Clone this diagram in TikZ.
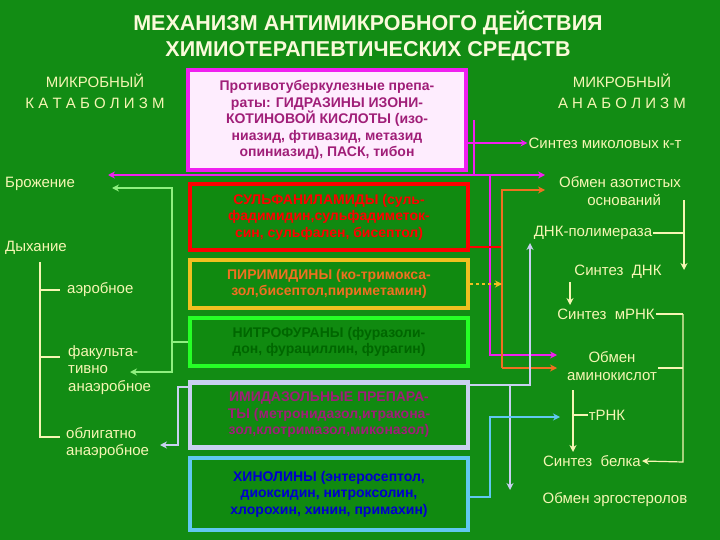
\documentclass[tikz,border=0pt]{standalone}
\usepackage{fontspec}
\setmainfont{Liberation Sans}
\usetikzlibrary{arrows.meta}
\definecolor{bg}{HTML}{128C14}
\definecolor{lbl}{HTML}{F6F6B4}
\definecolor{mag}{HTML}{F020F0}
\definecolor{magtxt}{HTML}{A01E78}
\definecolor{orng}{HTML}{F07020}
\definecolor{lgreen}{HTML}{90F080}
\definecolor{lav}{HTML}{C8D0F0}
\definecolor{cyn}{HTML}{60C8F0}
\definecolor{ylw}{HTML}{F0C020}
\definecolor{boxg}{HTML}{108A10}
\tikzset{
 lab/.style={text=lbl,font=\fontsize{15}{17.5}\selectfont,align=center,inner sep=1pt},
 drug/.style={draw,line width=4.5pt,fill=boxg,minimum width=278pt,align=center,font=\bfseries\fontsize{14}{16.5}\selectfont,inner sep=2pt},
 con/.style={line width=2.2pt},
 tip/.style={-{Stealth[length=7pt,width=7pt]}},
 yl/.style={draw=lbl,line width=1.2pt}
}
\begin{document}
\begin{tikzpicture}[x=1pt,y=-1pt]
\fill[bg] (0,0) rectangle (720,540);
\useasboundingbox (0,0) rectangle (720,540);
% title
\node[text=lbl!50!white,font=\bfseries\fontsize{21.5}{26}\selectfont,align=center] (title) at (368,36) {МЕХАНИЗМ АНТИМИКРОБНОГО ДЕЙСТВИЯ\\ХИМИОТЕРАПЕВТИЧЕСКИХ СРЕДСТВ};
\node[lab,font=\fontsize{15}{21}\selectfont] (kat) at (95,91) {МИКРОБНЫЙ\\К А Т А Б О Л И З М};
\node[lab,font=\fontsize{15}{21}\selectfont] (ana) at (622,91) {МИКРОБНЫЙ\\А Н А Б О Л И З М};
% drug boxes
\node[drug,draw=mag,fill=white!92!mag,text=magtxt,minimum height=100pt] (b1) at (327,120)
 {Противотуберкулезные препа-\\раты: ГИДРАЗИНЫ ИЗОНИ-\\КОТИНОВОЙ КИСЛОТЫ (изо-\\ниазид, фтивазид, метазид\\опиниазид), ПАСК, тибон};
\node[drug,draw=red,text=red,minimum height=66pt] (b2) at (329,217)
 {СУЛЬФАНИЛАМИДЫ (суль-\\фадимидин,сульфадиметок-\\син, сульфален, бисептол)};
\node[drug,draw=ylw,text=orng,minimum height=48pt] (b3) at (329,284)
 {ПИРИМИДИНЫ (ко-тримокса-\\зол,бисептол,пириметамин)};
\node[drug,draw=green!85!white,text=green!40!black,minimum height=48pt] (b4) at (329,342)
 {НИТРОФУРАНЫ (фуразоли-\\дон, фурациллин, фурагин)};
\node[drug,draw=lav,text=magtxt,minimum height=65pt] (b5) at (329,415)
 {ИМИДАЗОЛЬНЫЕ ПРЕПАРА-\\ТЫ (метронидазол,итракона-\\зол,клотримазол,миконазол)};
\node[drug,draw=cyn,text=blue!80!black,minimum height=72pt] (b6) at (329,494)
 {ХИНОЛИНЫ (энтеросептол,\\диоксидин, нитроксолин,\\хлорохин, хинин, примахин)};
% left labels
\node[lab,anchor=west] (brozh) at (4,184) {Брожение};
\node[lab,anchor=west] (dyh) at (4,248) {Дыхание};
\node[lab,anchor=west] (aer) at (66,290) {аэробное};
\node[lab,anchor=west,align=left] (fak) at (67,370) {факульта-\\тивно\\анаэробное};
\node[lab,anchor=west,align=left] (obl) at (65,443) {облигатно\\анаэробное};
\draw[yl] (40,262) -- (40,437) -- (60,437) (40,290)--(60,290) (40,357)--(60,357);
% right labels
\node[lab] (mik) at (605,143) {Синтез миколовых к-т};
\node[lab] (azot) at (620,191) {Обмен азотистых\\ \ \ оснований};
\node[lab] (dnkp) at (593,233) {ДНК-полимераза};
\node[lab] (sdnk) at (618,272) {Синтез\ \ ДНК};
\node[lab] (mrnk) at (606,314) {Синтез\ \ мРНК};
\node[lab] (amin) at (612,366) {Обмен\\аминокислот};
\node[lab] (trnk) at (607,415) {тРНК};
\node[lab] (belk) at (592,461) {Синтез\ \ белка};
\node[lab] (ergo) at (615,500) {Обмен эргостеролов};
\coordinate (ergoT) at (510,490);
% yellow right connectors
\draw[yl,tip] (684,200) -- (684,270);
\draw[yl] (dnkp.east) -- (684,233);
\draw[yl,tip] (570,282) -- (570,305);
\draw[yl] (mrnk.east) -- (683,314) (amin.east|-0,368)--(683,368);
\draw[yl,tip] (683,314) -- (683,462) -- (belk.east);
\draw[yl,tip] (573,390) -- (573,452);
\draw[yl] (573,415) -- (trnk.west);
% magenta
\draw[con,mag,tip] (b1.east|-mik) -- (mik.west);
\draw[con,mag] (474,120) -- (474,175);
\draw[con,mag,tip] (478,175) -- (108,175);
\draw[con,mag,tip] (478,175) -- (545,175);
\draw[con,mag,tip] (490,175) -- (490,355) -- (557,355);
% red / orange
\draw[con,red] (b2.east|-0,247) -- (502,247);
\draw[con,orng,tip] (502,368) -- (502,190) -- (545,190);
\draw[con,orng,tip] (502,368) -- (557,368);
\draw[con,ylw,dashed,tip] (b3.east) -- (502,284);
% light green
\draw[con,lgreen] (b4.west) -- (172,342);
\draw[con,lgreen,tip] (172,342) -- (172,188) -- (112,188);
\draw[con,lgreen,tip] (172,342) -- (172,372) -- (130,372);
% lavender
\draw[con,lav,tip] (b5.east|-0,385) -- (530,385) -- (530,243);
\draw[con,lav,tip] (510,385) -- (ergoT);
\draw[con,lav,tip] (b5.west|-0,387) -- (178,387) -- (178,445) -- (160,445);
% cyan
\draw[con,cyn,tip] (b6.east|-0,497) -- (490,497) -- (490,417) -- (560,417);
\end{tikzpicture}
\end{document}
